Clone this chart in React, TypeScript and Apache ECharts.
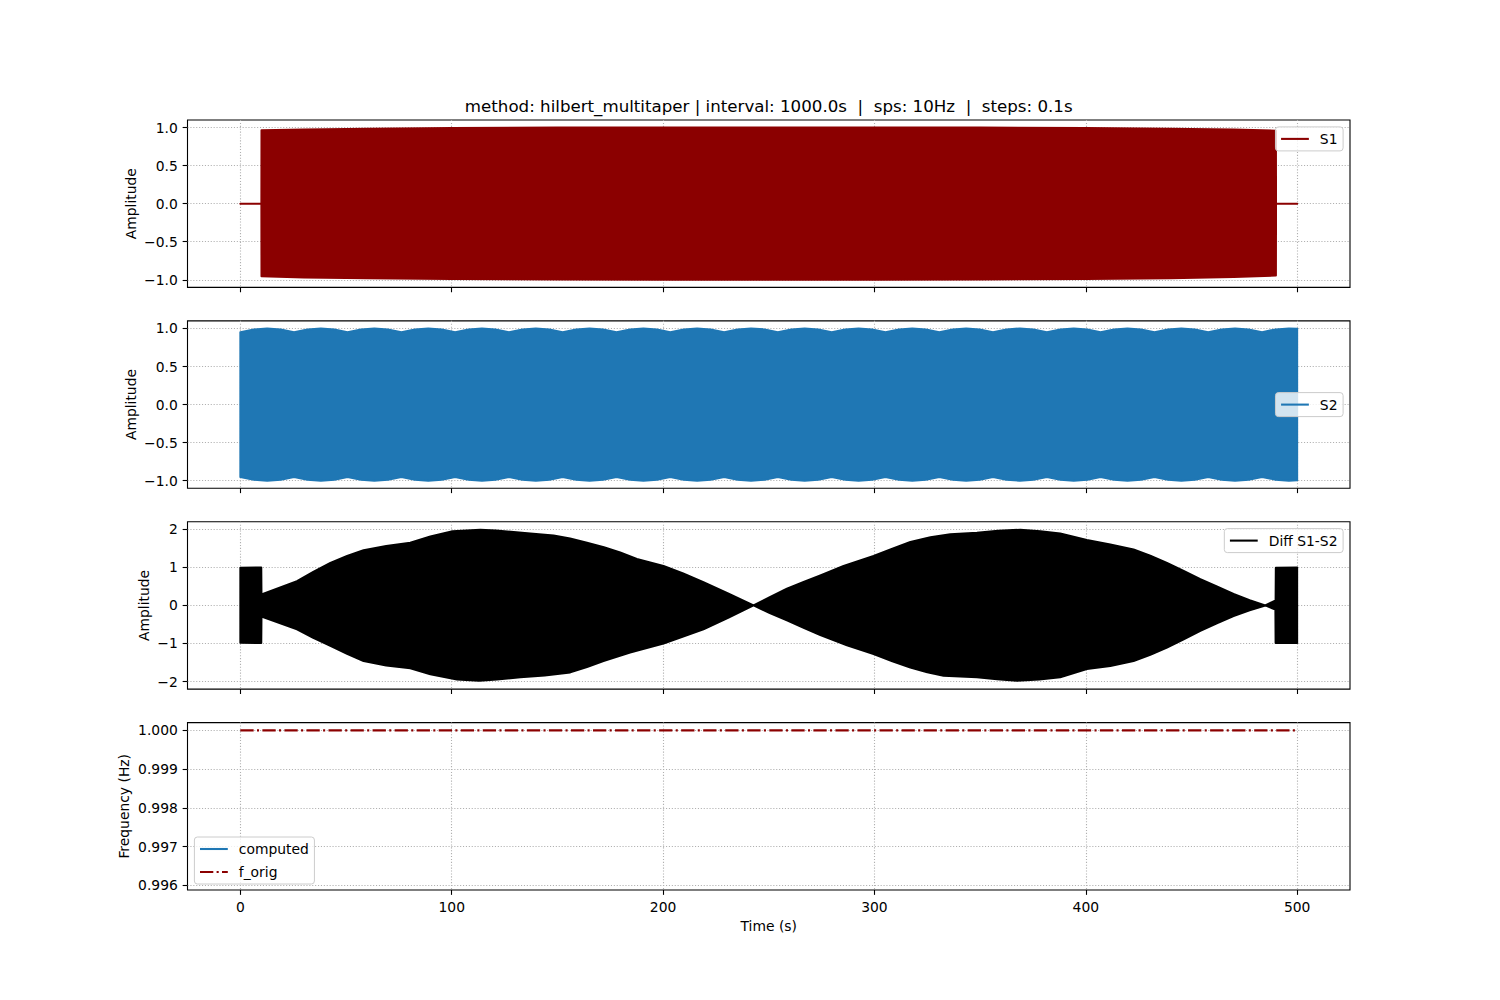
import React, { useEffect, useRef } from "react";
import * as echarts from "echarts";

const FONT = "DejaVu Sans";
const TITLE = "method: hilbert_multitaper | interval: 1000.0s  |  sps: 10Hz  |  steps: 0.1s";

const X_TICKS = [0, 100, 200, 300, 400, 500];
const AMP_TICKS = [-1.0, -0.5, 0.0, 0.5, 1.0];
const DIFF_TICKS = [-2, -1, 0, 1, 2];
const FREQ_TICKS = [0.996, 0.997, 0.998, 0.999, 1.0];

// envelope of S1 (upper / lower edge of the dense oscillation)
const S1_UPPER: number[][] = [
  [0, 0], [9.95, 0], [10, 0.965], [30, 0.975], [60, 0.985], [100, 0.995], [150, 1.0], [200, 1.0],
  [250, 1.0], [300, 1.0], [350, 1.0], [400, 0.995], [440, 0.985], [470, 0.975], [489.95, 0.96], [490, 0], [500, 0],
];
const S1_LOWER: number[][] = [
  [0, 0], [9.95, 0], [10, -0.955], [30, -0.97], [60, -0.98], [100, -0.99], [150, -0.997], [200, -1.0],
  [250, -1.0], [300, -1.0], [350, -0.997], [400, -0.99], [440, -0.98], [470, -0.965], [489.95, -0.945], [490, 0], [500, 0],
];

// amplitude envelope of S2 (symmetric around 0, aliasing scallops)
const S2_AMPLITUDE: number[][] = [
  [0, 0.952], [6.4, 0.988], [12.7, 1.0], [19.1, 0.988],
  [25.4, 0.952], [31.8, 0.988], [38.1, 1.0], [44.5, 0.988],
  [50.7, 0.952], [57.1, 0.988], [63.4, 1.0], [69.8, 0.988],
  [76.2, 0.952], [82.6, 0.988], [88.9, 1.0], [95.3, 0.988],
  [101.6, 0.952], [108.0, 0.988], [114.3, 1.0], [120.7, 0.988],
  [127.1, 0.952], [133.5, 0.988], [139.8, 1.0], [146.2, 0.988],
  [152.5, 0.952], [158.9, 0.988], [165.2, 1.0], [171.6, 0.988],
  [178.0, 0.952], [184.4, 0.988], [190.7, 1.0], [197.1, 0.988],
  [203.4, 0.952], [209.8, 0.988], [216.1, 1.0], [222.5, 0.988],
  [228.9, 0.952], [235.3, 0.988], [241.6, 1.0], [248.0, 0.988],
  [254.3, 0.952], [260.7, 0.988], [267.0, 1.0], [273.4, 0.988],
  [279.8, 0.952], [286.2, 0.988], [292.5, 1.0], [298.9, 0.988],
  [305.2, 0.952], [311.6, 0.988], [317.9, 1.0], [324.3, 0.988],
  [330.7, 0.952], [337.1, 0.988], [343.4, 1.0], [349.8, 0.988],
  [356.1, 0.952], [362.5, 0.988], [368.8, 1.0], [375.2, 0.988],
  [381.6, 0.952], [388.0, 0.988], [394.3, 1.0], [400.7, 0.988],
  [407.0, 0.952], [413.4, 0.988], [419.7, 1.0], [426.1, 0.988],
  [432.5, 0.952], [438.9, 0.988], [445.2, 1.0], [451.6, 0.988],
  [457.9, 0.952], [464.3, 0.988], [470.6, 1.0], [477.0, 0.988],
  [483.4, 0.952], [489.8, 0.988], [496.1, 1.0], [500, 0.996],
];

// envelope of Diff S1-S2
const DIFF_UPPER: number[][] = [
  [0, 0.99], [9.9, 1.0], [10.0, 0.29], [26.8, 0.64], [34.5, 0.88], [42.6, 1.12], [50.5, 1.3], [58.3, 1.45],
  [69.0, 1.56], [80.4, 1.65], [89.9, 1.81], [100.4, 1.95], [113.5, 1.99], [121.0, 1.97], [129.3, 1.93],
  [137.2, 1.89], [148.2, 1.84], [156.0, 1.76], [164.0, 1.65], [172.0, 1.53], [179.7, 1.39], [187.6, 1.22],
  [200.2, 1.04], [209.5, 0.84], [219.1, 0.61], [231.0, 0.31], [242.8, 0], [250.5, 0.22], [258.6, 0.44],
  [266.5, 0.62], [274.4, 0.79], [285.4, 1.04], [299.6, 1.3], [308.5, 1.49], [317.0, 1.67], [326.5, 1.79],
  [335.9, 1.87], [348.5, 1.91], [358.5, 1.96], [369.0, 1.99], [378.5, 1.95], [387.9, 1.89], [400.5, 1.72],
  [411.6, 1.6], [422.6, 1.47], [430.5, 1.31], [438.4, 1.12], [446.3, 0.91], [454.2, 0.69], [462.0, 0.5],
  [469.9, 0.3], [477.5, 0.14], [484.9, 0], [489.8, 0.13], [489.9, 0.99], [500, 1.0],
];
const DIFF_LOWER: number[][] = [
  [0, -0.98], [9.9, -0.99], [10.0, -0.29], [26.8, -0.63], [34.5, -0.85], [42.6, -1.06], [50.5, -1.27],
  [58.3, -1.46], [69.0, -1.58], [80.4, -1.65], [89.9, -1.81], [102.5, -1.95], [113.0, -1.98], [121.4, -1.95],
  [132.5, -1.89], [144.0, -1.84], [156.1, -1.76], [164.0, -1.62], [171.8, -1.46], [184.4, -1.24], [200.2, -1.0],
  [209.5, -0.82], [219.1, -0.63], [231.0, -0.32], [242.8, 0], [250.5, -0.2], [258.6, -0.39], [266.5, -0.59],
  [274.4, -0.78], [287.0, -1.05], [299.6, -1.28], [308.5, -1.47], [317.0, -1.63], [325.0, -1.76], [332.7, -1.85],
  [348.5, -1.89], [358.0, -1.94], [367.4, -1.98], [378.0, -1.95], [387.9, -1.89], [400.5, -1.67], [411.6, -1.59],
  [422.6, -1.46], [430.5, -1.3], [438.4, -1.11], [446.3, -0.89], [454.2, -0.67], [462.0, -0.47], [469.9, -0.28],
  [477.5, -0.13], [484.9, 0], [489.7, -0.11], [489.8, -0.99], [500, -0.99],
];

const F_ORIG: number[][] = [[0, 1.0], [500, 1.0]];
const COMPUTED: number[][] = [];

const C_S1 = "#8b0000";
const C_S2 = "#1f77b4";
const C_DIFF = "#000000";

const GRID_TOPS = [120, 320.87, 521.74, 722.61];
const GRID_H = 167.39;
const LEFT = 187.5;
const WIDTH = 1162.5;
const FS = 13.89;

const minus = (s: string) => s.replace("-", "\u2212");

function xAxis(i: number) {
  return {
    type: "value",
    gridIndex: i,
    position: "bottom",
    min: -25,
    max: 525,
    minInterval: 100,
    maxInterval: 100,
    axisLine: { show: false, onZero: false },
    axisTick: { show: true, length: 4.86, lineStyle: { color: "#000", width: 1.1 }, customValues: X_TICKS },
    axisLabel: {
      show: i === 3,
      customValues: X_TICKS,
      margin: 9.7,
      color: "#000",
      fontSize: FS,
      fontFamily: FONT,
      formatter: (v: number) => String(v),
    },
    splitLine: { show: true, lineStyle: { color: "#b0b0b0", width: 1.1, type: [1.1, 1.8] } },
    name: i === 3 ? "Time (s)" : "",
    nameLocation: "middle",
    nameGap: 29,
    nameMoveOverlap: false,
    nameTextStyle: { color: "#000", fontSize: FS, fontFamily: FONT },
  };
}

function yAxis(i: number, min: number, max: number, ticks: number[], digits: number, step: number, name: string, gap: number) {
  return {
    type: "value",
    gridIndex: i,
    position: "left",
    min,
    max,
    minInterval: step,
    maxInterval: step,
    axisLine: { show: false, onZero: false },
    axisTick: { show: true, length: 4.86, lineStyle: { color: "#000", width: 1.1 }, customValues: ticks },
    axisLabel: {
      customValues: ticks,
      margin: 9.7,
      color: "#000",
      fontSize: FS,
      fontFamily: FONT,
      formatter: (v: number) => minus(v.toFixed(digits)),
    },
    splitLine: { show: true, lineStyle: { color: "#b0b0b0", width: 1.1, type: [1.1, 1.8] } },
    name,
    nameLocation: "middle",
    nameRotate: 90,
    nameGap: gap,
    nameMoveOverlap: false,
    nameTextStyle: { color: "#000", fontSize: FS, fontFamily: FONT },
  };
}

// one filled polygon between an upper and a lower envelope, positioned through the axes' scales
function band(name: string, color: string, upper: number[][], lower: number[][], i: number) {
  return {
    type: "custom",
    name,
    coordinateSystem: "cartesian2d",
    xAxisIndex: i,
    yAxisIndex: i,
    data: [[upper[0][0], upper[0][1]]],
    silent: true,
    clip: true,
    itemStyle: { color },
    z: 2,
    renderItem: (_params: any, api: any) => {
      const pts = upper.map((p) => api.coord(p)).concat(lower.slice().reverse().map((p) => api.coord(p)));
      return {
        type: "polygon",
        shape: { points: pts },
        style: { fill: color, stroke: color, lineWidth: 2, lineJoin: "round" },
      };
    },
  };
}

const legendBase = {
  orient: "vertical",
  itemWidth: 27.8,
  itemHeight: 2.08,
  itemGap: 7,
  padding: [4, 5.6, 4, 5.6],
  backgroundColor: "rgba(255,255,255,0.8)",
  borderColor: "#cccccc",
  borderWidth: 1,
  borderRadius: 3,
  selectedMode: false,
  itemStyle: { borderWidth: 0 },
  textStyle: { fontFamily: FONT, fontSize: FS, color: "#000", lineHeight: 16, padding: [0, 0, 0, 6] },
};

const DASHDOT_ICON = "path://M0,0h13.3v2h-13.3z M16.6,0h2.1v2h-2.1z M22,0h5.8v2h-5.8z";

export default function App() {
  const ref = useRef<HTMLDivElement>(null);
  useEffect(() => {
    const chart = echarts.init(ref.current!, null, { renderer: "svg" });
    const option: any = {
      animation: false,
      backgroundColor: "#ffffff",
      title: {
        text: TITLE,
        left: 768.75,
        top: 96,
        textAlign: "center",
        padding: 0,
        textStyle: { fontFamily: FONT, fontSize: 16.67, fontWeight: "normal", color: "#000", lineHeight: 20 },
      },
      grid: GRID_TOPS.map((top) => ({
        left: LEFT,
        top,
        width: WIDTH,
        height: GRID_H,
        show: true,
        borderColor: "#000",
        borderWidth: 1.1,
        backgroundColor: "transparent",
      })),
      xAxis: [0, 1, 2, 3].map(xAxis),
      yAxis: [
        yAxis(0, -1.1, 1.1, AMP_TICKS, 1, 0.5, "Amplitude", 50),
        yAxis(1, -1.1, 1.1, AMP_TICKS, 1, 0.5, "Amplitude", 50),
        yAxis(2, -2.2, 2.2, DIFF_TICKS, 0, 1, "Amplitude", 37),
        yAxis(3, 0.99588, 1.0002, FREQ_TICKS, 3, 0.001, "Frequency (Hz)", 57),
      ],
      legend: [
        { ...legendBase, right: 156.9, top: 126.9, data: [{ name: "S1", icon: "rect" }] },
        { ...legendBase, right: 156.9, top: 392.6, data: [{ name: "S2", icon: "rect" }] },
        { ...legendBase, right: 156.9, top: 528.6, data: [{ name: "Diff S1-S2", icon: "rect" }] },
        {
          ...legendBase,
          left: 194.4,
          top: 837,
          data: [
            { name: "computed", icon: "rect" },
            { name: "f_orig", icon: DASHDOT_ICON },
          ],
        },
      ],
      series: [
        band("S1", C_S1, S1_UPPER, S1_LOWER, 0),
        band("S2", C_S2, S2_AMPLITUDE, S2_AMPLITUDE.map(([t, a]) => [t, -a]), 1),
        band("Diff S1-S2", C_DIFF, DIFF_UPPER, DIFF_LOWER, 2),
        {
          type: "line",
          name: "computed",
          xAxisIndex: 3,
          yAxisIndex: 3,
          data: COMPUTED,
          symbol: "none",
          showSymbol: false,
          lineStyle: { color: C_S2, width: 2.08 },
          itemStyle: { color: C_S2 },
        },
        {
          type: "line",
          name: "f_orig",
          xAxisIndex: 3,
          yAxisIndex: 3,
          data: F_ORIG,
          symbol: "none",
          showSymbol: false,
          silent: true,
          lineStyle: { color: C_S1, width: 2.08, type: [13.3, 3.33, 2.08, 3.33] },
          itemStyle: { color: C_S1 },
        },
      ],
    };
    chart.setOption(option);
    return () => chart.dispose();
  }, []);
  return (
    <div
      ref={ref}
      style={{ position: "absolute", left: 0, top: 0, width: 1500, height: 1000, background: "#fff" }}
    />
  );
}
